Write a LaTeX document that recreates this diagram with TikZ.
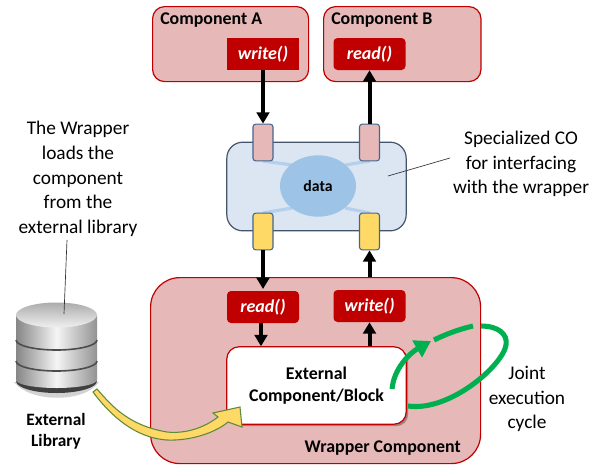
\documentclass[tikz,border=0pt]{standalone}
\usepackage{fontspec}
\setmainfont{Carlito}
\usetikzlibrary{arrows.meta,shadows,calc,shapes.geometric}
\definecolor{compfill}{HTML}{E6B8B7}
\definecolor{compline}{HTML}{C00000}
\definecolor{bluefill}{HTML}{DCE6F2}
\definecolor{blueline}{HTML}{44546A}
\definecolor{ellfill}{HTML}{9DC3E6}
\definecolor{spokec}{HTML}{B4D0EC}
\definecolor{portline}{HTML}{41668F}
\definecolor{yel}{HTML}{FFD966}
\definecolor{grn}{HTML}{00B050}
\definecolor{arrgreen}{HTML}{5E8A3A}
\tikzset{
  x=0.75pt,y=-0.75pt,
  comp/.style={draw=compline,fill=compfill,line width=0.9pt,rounded corners=9pt,anchor=north west,inner sep=0pt},
  fn/.style={fill=compline,text=white,font=\fontsize{13.5}{15}\selectfont\bfseries\itshape,minimum width=54pt,minimum height=24pt,inner sep=0pt},
  fnr/.style={fn,rounded corners=3pt},
  port/.style={draw=portline,line width=0.8pt,rounded corners=2pt,minimum width=15pt,minimum height=27.5pt,inner sep=0pt},
  big/.style={line width=3pt,-{Triangle[length=8.5pt,width=9.5pt]}},
  small/.style={line width=3pt,-{Triangle[length=8.5pt,width=9.5pt]}},
  spoke/.style={spokec,line width=2.4pt},
  lbl/.style={font=\fontsize{14.5}{18.6}\selectfont,align=center,text=black,inner sep=0pt},
  blbl/.style={font=\fontsize{13.4}{15}\selectfont\bfseries,text=black,inner sep=0pt},
  cyc/.style={grn,line width=3.8pt},
}
\begin{document}
\begin{tikzpicture}
\useasboundingbox (0,0) rectangle (589,465);
% top components
\node[comp,minimum width=117pt,minimum height=56.25pt] (ca) at (152,6) {};
\node[comp,minimum width=118pt,minimum height=56.25pt] (cb) at (323,6) {};
\node[blbl,anchor=west] (cat) at (160,20) {Component A};
\node[blbl,anchor=west] (cbt) at (331,20) {Component B};
\node[fn] (w1) at (263,54) {write()};
\node[fnr] (r1) at (369.5,54) {read()};
% wrapper
\node[comp,rounded corners=22pt,minimum width=247.5pt,minimum height=139.5pt] (wr) at (150,277) {};
\node[blbl,anchor=east] (wrt) at (461,448) {Wrapper Component};
% CO
\node[draw=blueline,fill=bluefill,line width=0.9pt,rounded corners=12pt,minimum width=134.5pt,minimum height=66.5pt,inner sep=0pt] (co) at (316.5,186.5) {};
\coordinate (s1a) at (263,161); \coordinate (s1b) at (292,165);
\coordinate (s2a) at (370,161); \coordinate (s2b) at (345,165);
\coordinate (s3a) at (263,213); \coordinate (s3b) at (292,208);
\coordinate (s4a) at (370,213); \coordinate (s4b) at (345,208);
\draw[spoke] (s1a)--(s1b);
\draw[spoke] (s2a)--(s2b);
\draw[spoke] (s3a)--(s3b);
\draw[spoke] (s4a)--(s4b);
\node[ellipse,fill=ellfill,minimum width=57pt,minimum height=46pt,inner sep=0pt,font=\fontsize{11.8}{12}\selectfont\bfseries] (data) at (318,186) {data};
\node[port,fill=compfill] (p1) at (263,142.5) {};
\node[port,fill=compfill] (p2) at (369.5,142.5) {};
\node[port,fill=yel] (p3) at (263,231.5) {};
\node[port,fill=yel] (p4) at (369.5,231.5) {};
% wrapper functions
\node[fnr] (r2) at (263,307) {read()};
\node[fnr] (w2) at (369.5,306) {write()};
\node[draw=compline,fill=white,line width=0.9pt,rounded corners=9pt,minimum width=134.5pt,minimum height=58pt,inner sep=0pt,
  drop shadow={shadow xshift=1.5pt,shadow yshift=-1.5pt,fill=black,opacity=0.3},
  ] (ext) at (316.5,385.5) {};
\node[lbl,font=\fontsize{13.4}{16.5}\selectfont\bfseries] (extt) at (316.5,386) {External\\Component/Block};
% arrows
\draw[big] (w1.south) -- (p1.north);
\draw[big] (p2.north) -- (r1.south);
\draw[big] (p3.south) -- (263,289);
\draw[big] (369.5,277) -- (p4.south);
\draw[small] ([xshift=-1.5pt]r2.south) -- ([xshift=-1.5pt]r2.south|-ext.north);
\draw[small] (w2.south|-ext.north) -- (w2.south);
% cycle
\draw[grn,line width=3.8pt,-{Triangle[length=12pt,width=14pt]}] (392,389) .. controls (394,368) and (410,353) .. (431,341);
\draw[cyc] (434,340) .. controls (446,334) and (460,329) .. (473,326);
\draw[cyc] (481,326) .. controls (498,326) and (508,334) .. (506,345) .. controls (503,365) and (450,412) .. (408,406);
% library
\fill[black!35,opacity=.5] (14,382) .. controls (30,403) and (85,403) .. (99,382) -- cycle;
\fill[black!75] (16,381) arc[start angle=180,end angle=0,x radius=40.5,y radius=12] -- cycle;
\shade[left color=gray!95,right color=gray!85,middle color=white!92!gray] (16,315) -- (16,380) arc[start angle=180,end angle=0,x radius=40.5,y radius=8] -- (97,315) -- cycle;
\shade[top color=gray!65,bottom color=gray!12] (56.5,315) ellipse[x radius=40.5,y radius=12.5];
\draw[black!70,line width=1.2pt] (16,340) arc[start angle=180,end angle=0,x radius=40.5,y radius=10];
\draw[black!70,line width=1.2pt] (16,361) arc[start angle=180,end angle=0,x radius=40.5,y radius=10];
\node[blbl,align=center,font=\fontsize{13}{15.6}\selectfont\bfseries] (libt) at (56,431) {External\\Library};
% yellow arrow
\draw[arrgreen,fill=yel,line width=0.8pt,line join=miter]
  (93,392) -- (97,389) .. controls (108,401) and (125,425) .. (167,432)
  .. controls (185,434) and (204,428) .. (218,417) -- (213,413) -- (240,407) -- (242,427) -- (228,422)
  .. controls (215,433) and (190,441) .. (167,440) .. controls (135,438) and (110,415) .. (93,392) -- cycle;
% texts
\node[lbl] (tl) at (78,179) {The Wrapper\\loads the\\component\\from the\\external library};
\node[lbl] (tr) at (521,164) {Specialized CO\\for interfacing\\with the wrapper};
\node[lbl] (tj) at (527,399) {Joint\\execution\\cycle};
% leaders
\coordinate (lead1) at (388,176);
\coordinate (lead1b) at (450,158);
\draw[black!80,line width=0.5pt] (lead1) -- (lead1b);
\coordinate (lead2) at (64,314);
\coordinate (lead2b) at (67,240);
\draw[black!80,line width=0.5pt] (lead2b) -- (lead2);
\end{tikzpicture}
\end{document}
